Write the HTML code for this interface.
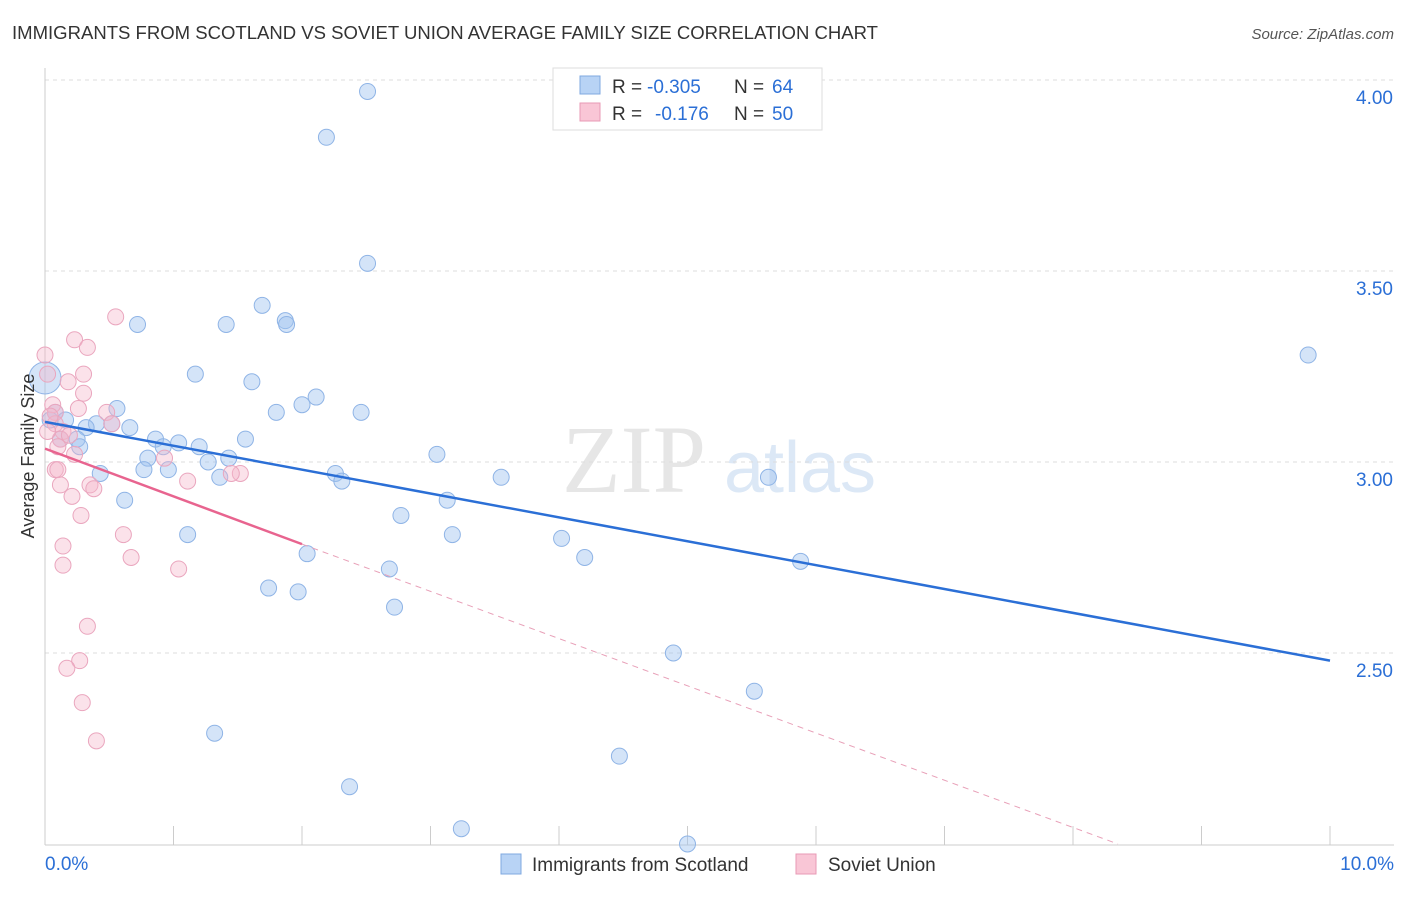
<!DOCTYPE html>
<html><head><meta charset="utf-8"><style>
body{margin:0;background:#fff;font-family:"Liberation Sans",sans-serif;}
</style></head><body>
<svg width="1406" height="892" xmlns="http://www.w3.org/2000/svg">
<text x="12" y="39" font-size="18" fill="#333" textLength="866" lengthAdjust="spacingAndGlyphs">IMMIGRANTS FROM SCOTLAND VS SOVIET UNION AVERAGE FAMILY SIZE CORRELATION CHART</text>
<text x="1394" y="39" font-size="15" fill="#555" text-anchor="end" font-style="italic">Source: ZipAtlas.com</text>
<text x="634" y="492" font-size="96" fill="#e6e6e6" font-family="Liberation Serif" text-anchor="middle">ZIP</text>
<text x="800" y="492" font-size="72" fill="#dce8f6" text-anchor="middle">atlas</text>
<g id="grid"></g><g id="axes"></g><g id="marks"></g>
<text transform="translate(34,456) rotate(-90)" font-size="18" fill="#333" text-anchor="middle">Average Family Size</text>
<g>
<rect x="553" y="68" width="269" height="62" fill="#fff" stroke="#ddd"/>
<rect x="580" y="76" width="20" height="18" fill="#b8d3f5" stroke="#7fa8e0"/>
<text x="612" y="93" font-size="19" fill="#333">R =</text>
<text x="647" y="93" font-size="19" fill="#2b6fd6">-0.305</text>
<text x="734" y="93" font-size="19" fill="#333">N =</text>
<text x="772" y="93" font-size="19" fill="#2b6fd6">64</text>
<rect x="580" y="103" width="20" height="18" fill="#f9c6d6" stroke="#e89ab5"/>
<text x="612" y="120" font-size="19" fill="#333">R =</text>
<text x="655" y="120" font-size="19" fill="#2b6fd6">-0.176</text>
<text x="734" y="120" font-size="19" fill="#333">N =</text>
<text x="772" y="120" font-size="19" fill="#2b6fd6">50</text>
</g>
<g>
<rect x="501" y="854" width="20" height="20" fill="#b8d3f5" stroke="#7fa8e0"/>
<text x="532" y="871" font-size="19" fill="#333">Immigrants from Scotland</text>
<rect x="796" y="854" width="20" height="20" fill="#f9c6d6" stroke="#e89ab5"/>
<text x="828" y="871" font-size="19" fill="#333">Soviet Union</text>
</g>
</svg>
<script>
const yTicks=[4.0,3.5,3.0,2.5];
const yTickLabels=["4.00","3.50","3.00","2.50"];
const xTickLabels=["0.0%","10.0%"];
const blueX=[2.51,2.19,2.51,1.69,0.72,1.41,1.87,1.88,9.83,1.17,1.61,2.11,2.00,1.80,2.46,0.56,0.08,0.40,0.66,0.52,0.16,0.32,0.86,1.56,0.25,0.27,1.04,1.20,0.92,0.80,1.27,1.43,3.05,0.77,0.96,0.43,1.36,2.26,2.31,3.55,5.63,0.62,3.13,2.77,1.11,3.17,4.02,2.04,4.20,5.88,2.68,1.74,1.97,2.72,4.89,5.52,1.32,4.47,2.37,3.24,5.00,0.0,0.04,0.12];
const blueY=[3.97,3.85,3.52,3.41,3.36,3.36,3.37,3.36,3.28,3.23,3.21,3.17,3.15,3.13,3.13,3.14,3.13,3.10,3.09,3.10,3.11,3.09,3.06,3.06,3.06,3.04,3.05,3.04,3.04,3.01,3.00,3.01,3.02,2.98,2.98,2.97,2.96,2.97,2.95,2.96,2.96,2.90,2.90,2.86,2.81,2.81,2.80,2.76,2.75,2.74,2.72,2.67,2.66,2.62,2.50,2.40,2.29,2.23,2.15,2.04,2.00,3.22,3.11,3.06];
const blueR=[8,8,8,8,8,8,8,8,8,8,8,8,8,8,8,8,8,8,8,8,8,8,8,8,8,8,8,8,8,8,8,8,8,8,8,8,8,8,8,8,8,8,8,8,8,8,8,8,8,8,8,8,8,8,8,8,8,8,8,8,8,16,8,8];
const pinkX=[0.0,0.02,0.23,0.33,0.55,0.18,0.30,0.30,0.06,0.08,0.26,0.48,0.08,0.14,0.52,0.12,0.19,0.10,0.23,0.93,0.08,0.10,1.52,1.45,1.11,0.12,0.35,0.38,0.21,0.28,0.61,0.14,0.67,0.14,1.04,0.33,0.27,0.17,0.29,0.40,0.04,0.02];
const pinkY=[3.28,3.23,3.32,3.30,3.38,3.21,3.23,3.18,3.15,3.13,3.14,3.13,3.10,3.08,3.10,3.06,3.07,3.04,3.02,3.01,2.98,2.98,2.97,2.97,2.95,2.94,2.94,2.93,2.91,2.86,2.81,2.78,2.75,2.73,2.72,2.57,2.48,2.46,2.37,2.27,3.12,3.08];
const blueTrend=[[0,3.105],[10,2.48]];
const pinkTrend=[[0,3.035],[2,2.785],[8.35,2.0]];
const X=v=>45+v*128.5, Y=v=>80+(4-v)*382;
const NS="http://www.w3.org/2000/svg";
function mk(p,t,a){const e=document.createElementNS(NS,t);for(const k in a)e.setAttribute(k,a[k]);p.appendChild(e);return e;}
const grid=document.getElementById('grid'),axes=document.getElementById('axes'),marks=document.getElementById('marks');
yTicks.forEach((t,i)=>{
 const l=mk(grid,'line',{x1:45,x2:1394,y1:Y(t),y2:Y(t),stroke:'#ddd','stroke-dasharray':'4,4'});
 
 
 const tx=mk(axes,'text',{x:1393,y:Y(t)+24,'font-size':19,fill:'#2b6fd6','text-anchor':'end'});tx.textContent=yTickLabels[i];
 
 
});
mk(axes,'line',{x1:45,x2:45,y1:68,y2:845,stroke:'#ccc'});
mk(axes,'line',{x1:45,x2:1394,y1:845,y2:845,stroke:'#ccc'});
for(let i=0;i<=10;i++){const l=mk(axes,'line',{x1:X(i),x2:X(i),y1:826,y2:845,stroke:'#ccc'});
 
 }
const xl0=mk(axes,'text',{x:45,y:870,'font-size':19,fill:'#2b6fd6'});xl0.textContent=xTickLabels[0];


const xl1=mk(axes,'text',{x:1394,y:870,'font-size':19,fill:'#2b6fd6','text-anchor':'end'});xl1.textContent=xTickLabels[1];


blueX.forEach((v,i)=>{const c=mk(marks,'circle',{cx:X(v),cy:Y(blueY[i]),r:blueR[i],fill:'rgba(160,196,240,0.45)',stroke:'#8fb4e6','stroke-width':1});
 
 });
pinkX.forEach((v,i)=>{const c=mk(marks,'circle',{cx:X(v),cy:Y(pinkY[i]),r:8,fill:'rgba(246,182,202,0.4)',stroke:'#eaa6be','stroke-width':1});
 
 });
const bt=mk(marks,'line',{x1:X(blueTrend[0][0]),y1:Y(blueTrend[0][1]),x2:X(blueTrend[1][0]),y2:Y(blueTrend[1][1]),stroke:'#2b6fd6','stroke-width':2.5});


const pt=mk(marks,'line',{x1:X(pinkTrend[0][0]),y1:Y(pinkTrend[0][1]),x2:X(pinkTrend[1][0]),y2:Y(pinkTrend[1][1]),stroke:'#e8648f','stroke-width':2.5});


const pd=mk(marks,'line',{x1:X(pinkTrend[1][0]),y1:Y(pinkTrend[1][1]),x2:X(pinkTrend[2][0]),y2:Y(pinkTrend[2][1]),stroke:'#e8a0b8','stroke-width':1,'stroke-dasharray':'6,5'});


</script>
</body></html>
